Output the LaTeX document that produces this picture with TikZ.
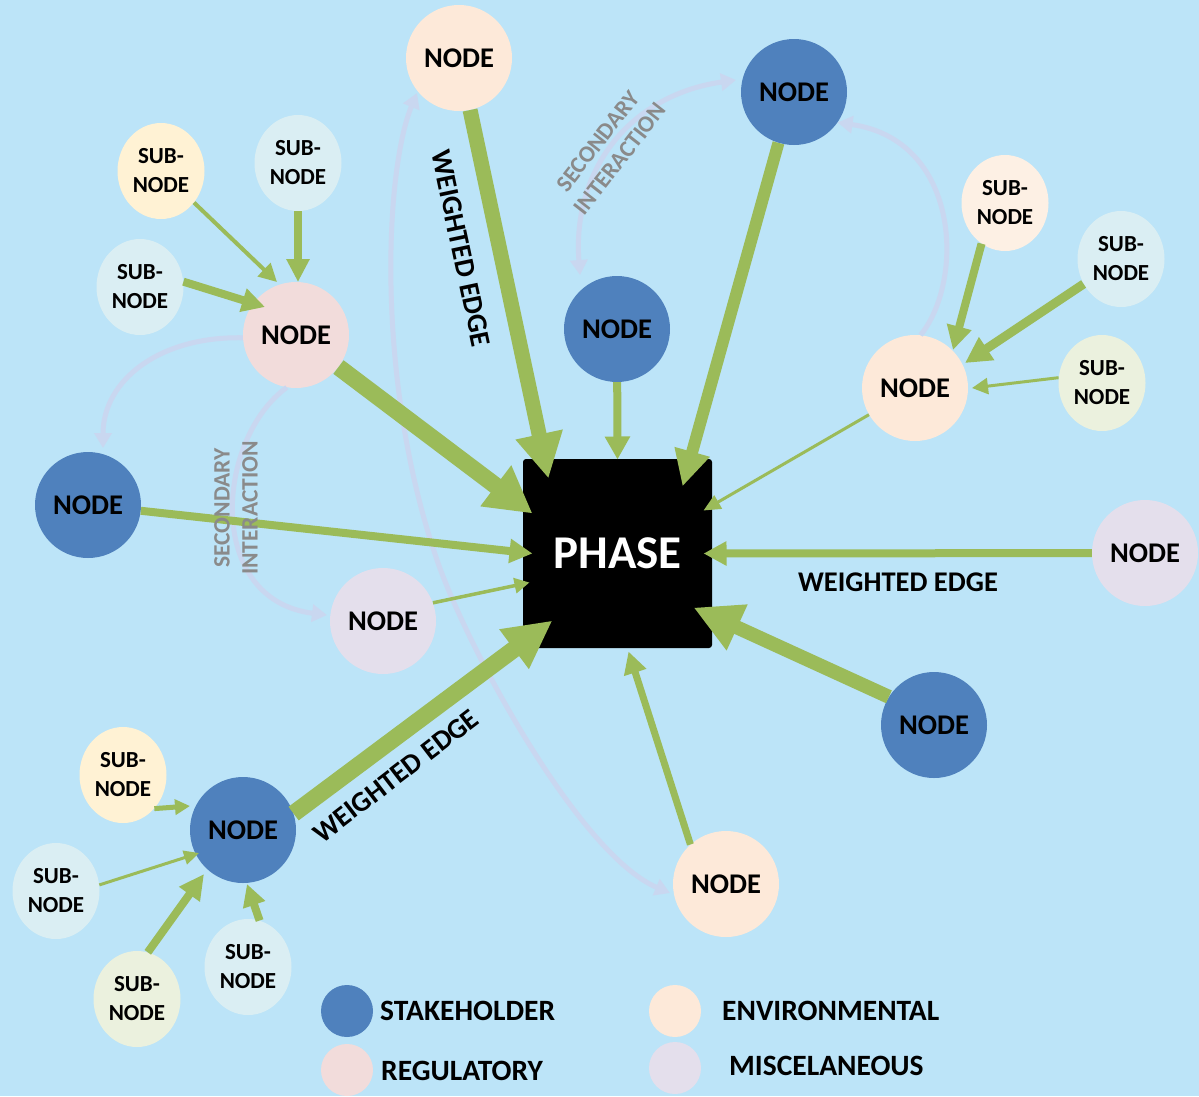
\documentclass[tikz,border=0pt]{standalone}
\usepackage{fontspec}
\setmainfont{Carlito}
\usetikzlibrary{arrows.meta,shapes.geometric,calc}

\definecolor{bgblue}{RGB}{188,228,248}
\definecolor{stake}{RGB}{79,129,189}
\definecolor{regul}{RGB}{242,220,219}
\definecolor{envir}{RGB}{253,233,217}
\definecolor{miscel}{RGB}{228,223,236}
\definecolor{subcream}{RGB}{255,242,212}
\definecolor{subblue}{RGB}{218,238,243}
\definecolor{subgreen}{RGB}{235,241,222}
\definecolor{subpeach}{RGB}{253,240,228}
\definecolor{flowgreen}{RGB}{155,187,89}
\definecolor{seccurve}{RGB}{201,215,240}
\definecolor{labgray}{RGB}{138,138,138}

\begin{document}
\begin{tikzpicture}[x=1pt,y=-1pt,
  bignode/.style={circle, minimum size=106pt, inner sep=0pt,
    font=\fontsize{28.5}{34}\selectfont\bfseries},
  subnode/.style={ellipse, minimum width=87pt, minimum height=96pt, inner sep=0pt,
    align=center, font=\fontsize{23}{29}\selectfont\bfseries},
  gflow/.style n args={3}{draw=flowgreen, line width=#1pt,
    -{Triangle[length=#2pt, width=#3pt]}},
  secline/.style={draw=seccurve, line width=5pt},
  sectip/.tip={Triangle[length=15pt, width=17pt]},
  wlabel/.style={inner sep=0pt, font=\fontsize{28.5}{34}\selectfont\bfseries},
  slabel/.style={inner sep=0pt, align=center, text=labgray,
    font=\fontsize{23.5}{28}\selectfont\bfseries},
  keydot/.style={circle, minimum size=52pt, inner sep=0pt},
  keytext/.style={anchor=west, inner sep=0pt, font=\fontsize{29.5}{34}\selectfont\bfseries}
]
% canvas
\useasboundingbox (0,0) rectangle (1199,1096);
\clip (0,0) rectangle (1199,1096);
\fill[bgblue] (0,0) rectangle (1199,1096);

% central phase block
\node[fill=black, rounded corners=3pt, minimum width=189pt, minimum height=189pt,
  inner sep=0pt, text=white, font=\fontsize{47}{56}\selectfont\bfseries]
  (phase) at (617.5,553.5) {PHASE};

% primary nodes
\node[bignode, fill=envir]  (top)  at (459,58)   {NODE};
\node[bignode, fill=stake]  (tr)   at (794,92)   {NODE};
\node[bignode, fill=stake]  (mid)  at (617,329)  {NODE};
\node[bignode, fill=regul]  (reg)  at (296,335)  {NODE};
\node[bignode, fill=stake]  (lft)  at (88,505)   {NODE};
\node[bignode, fill=miscel] (misc) at (383,621)  {NODE};
\node[bignode, fill=envir]  (renv) at (915,388)  {NODE};
\node[bignode, fill=miscel] (fr)   at (1145,553) {NODE};
\node[bignode, fill=stake]  (br)   at (934,725)  {NODE};
\node[bignode, fill=envir]  (bot)  at (726,884)  {NODE};
\node[bignode, fill=stake]  (bl)   at (243,830)  {NODE};

% sub-nodes
\node[subnode, fill=subcream] (s1)  at (161,171)  {SUB-\\NODE};
\node[subnode, fill=subblue]  (s2)  at (298,163)  {SUB-\\NODE};
\node[subnode, fill=subblue]  (s3)  at (140,287)  {SUB-\\NODE};
\node[subnode, fill=subpeach] (s4)  at (1005,203) {SUB-\\NODE};
\node[subnode, fill=subblue]  (s5)  at (1121,259) {SUB-\\NODE};
\node[subnode, fill=subgreen] (s6)  at (1102,383) {SUB-\\NODE};
\node[subnode, fill=subcream] (s7)  at (123,775)  {SUB-\\NODE};
\node[subnode, fill=subblue]  (s8)  at (56,891)   {SUB-\\NODE};
\node[subnode, fill=subgreen] (s9)  at (137,999)  {SUB-\\NODE};
\node[subnode, fill=subblue]  (s10) at (248,967)  {SUB-\\NODE};

% secondary interactions
\coordinate (bend) at (437,560);
\draw[secline, sectip-sectip] ([shift={(-37,-54)}]mid.center)
  .. controls (572,170) and (630,95) .. ([shift={(-58,-12)}]tr.center);
\draw[secline, -sectip] (reg.183)
  .. controls (160,336) and (103,380) .. ([shift={(15,-57)}]lft.center);
\draw[secline, -sectip] (reg.-100)
  .. controls (215,440) and (205,600) .. ([shift={(-56,-6)}]misc.center);
\draw[secline, sectip-sectip] ([shift={(-42,35)}]top.center)
  .. controls (385,170) and (375,380) .. (bend)
  .. controls (468,650) and (580,855) .. ([shift={(-56,9)}]bot.center);
\draw[secline, -sectip] (renv.84)
  .. controls (965,280) and (960,140) .. (tr.-35);

% weighted edges into the phase
\draw[gflow={15}{45}{45}] (top) -- ([shift={(-69,-75)}]phase.center);
\draw[gflow={12}{36}{34}] (tr.-107) -- ([shift={(65,-67)}]phase.center);
\draw[gflow={8}{23}{24}] (mid) -- ([shift={(0,-94)}]phase.center);
\draw[gflow={17}{46}{48}] (reg) -- ([shift={(-85,-40)}]phase.center);
\draw[gflow={8}{23}{23}] (lft) -- ([shift={(-85,0)}]phase.center);
\draw[gflow={3.5}{15}{15}] (misc.20) -- ([shift={(-88,29)}]phase.center);
\draw[gflow={17}{48}{46}] (bl.18) -- ([shift={(-65,67)}]phase.center);
\draw[gflow={7}{22}{22}] (bot.132) -- ([shift={(11,98)}]phase.center);
\draw[gflow={14}{48}{47}] (br.148) -- ([shift={(76,54)}]phase.center);
\draw[gflow={8}{23}{23}] (fr) -- ([shift={(86,0)}]phase.center);
\draw[gflow={3}{17}{15}] (renv) -- ([shift={(86,-43)}]phase.center);

% sub-node edges
\draw[gflow={4}{18}{18}] (s1) -- ([shift={(-19,-53)}]reg.center);
\draw[gflow={8}{23}{22}] (s2) -- ([shift={(2,-53)}]reg.center);
\draw[gflow={8}{23}{23}] (s3.7) -- ([shift={(-31,-28)}]reg.center);
\draw[gflow={8}{24}{24}] (s4.-120) -- ([shift={(38,-38)}]renv.center);
\draw[gflow={9}{26}{26}] (s5) -- ([shift={(50,-25)}]renv.center);
\draw[gflow={3}{16}{16}] (s6.173) -- ([shift={(57,0)}]renv.center);
\draw[gflow={5}{15}{15}] (s7.-47) -- ([shift={(-53,-24)}]bl.center);
\draw[gflow={3}{15}{14}] (s8.8) -- ([shift={(-44,23)}]bl.center);
\draw[gflow={8}{25}{24}] (s9.77) -- ([shift={(-39,44)}]bl.center);
\draw[gflow={8}{22}{22}] (s10.76) -- ([shift={(4,54)}]bl.center);

% edge labels
\node[wlabel, rotate=-78] (w1) at (461,248) {WEIGHTED EDGE};
\node[wlabel, rotate=37.5] (w2) at (396,776) {WEIGHTED EDGE};
\node[wlabel] (w3) at (898,582) {WEIGHTED EDGE};
\node[slabel, rotate=52] (sl1) at (609,150) {SECONDARY\\INTERACTION};
\node[slabel, rotate=90] (sl2) at (236,508) {SECONDARY\\INTERACTION};

% key
\node[keydot, fill=stake]  (k1) at (347,1011) {};
\node[keydot, fill=regul]  (k2) at (347,1070) {};
\node[keydot, fill=envir]  (k3) at (675,1011) {};
\node[keydot, fill=miscel] (k4) at (675,1068) {};
\node[keytext] (k1t) at (380,1011) {STAKEHOLDER};
\node[keytext] (k2t) at (381,1071) {REGULATORY};
\node[keytext] (k3t) at (722,1011) {ENVIRONMENTAL};
\node[keytext] (k4t) at (729,1066) {MISCELANEOUS};
\end{tikzpicture}
\end{document}
